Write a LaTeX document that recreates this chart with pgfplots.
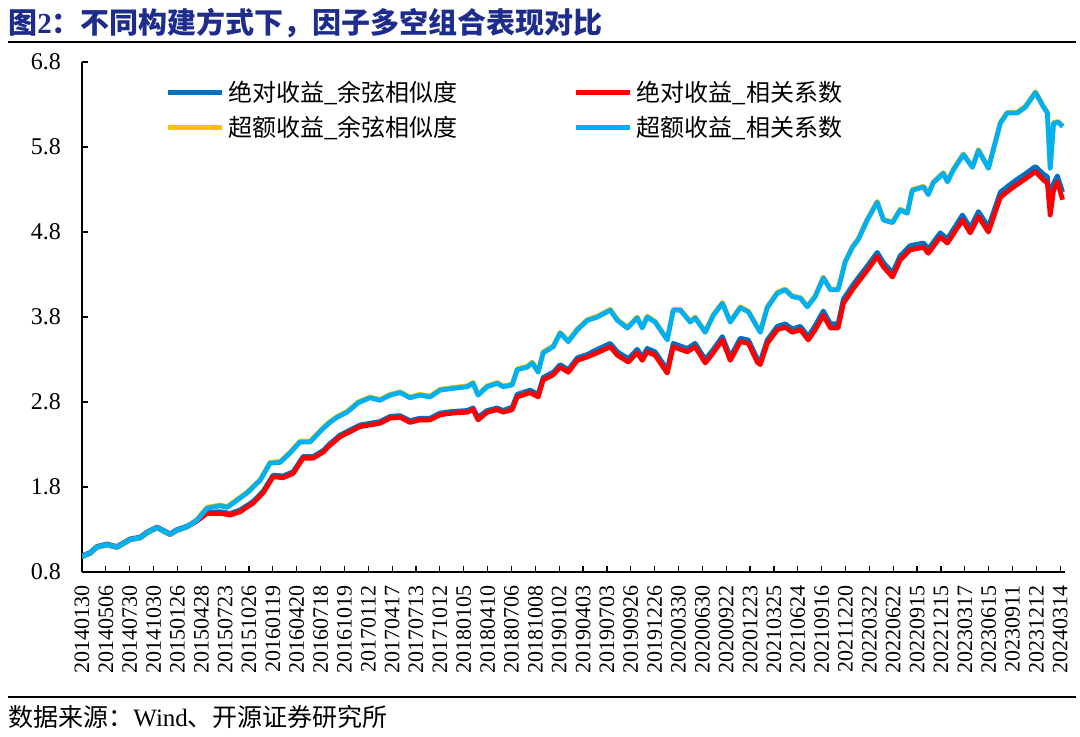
\documentclass[border=0pt]{standalone}
\usepackage{fontspec}
\setmainfont{Liberation Serif}
\newfontfamily\cjk{Noto Sans CJK SC}
\usepackage{pgfplots}
\usepackage{pgfplotstable}
\pgfplotsset{compat=1.18}
\definecolor{cblue}{RGB}{0,112,192}
\definecolor{cred}{RGB}{255,0,0}
\definecolor{cyel}{RGB}{255,192,0}
\definecolor{ccyan}{RGB}{0,176,240}
\definecolor{titleblue}{RGB}{30,45,140}

\pgfplotstableread{
x blue red
0 0.99 0.98
0.34 1.03 1.02
0.62 1.10 1.09
1.04 1.13 1.12
1.46 1.10 1.09
2.02 1.19 1.18
2.43 1.21 1.20
2.72 1.27 1.26
3.14 1.33 1.32
3.69 1.25 1.24
3.98 1.30 1.29
4.40 1.34 1.33
4.82 1.41 1.40
5.24 1.50 1.49
5.79 1.51 1.49
6.21 1.49 1.47
6.63 1.53 1.51
7.17 1.63 1.61
7.59 1.75 1.73
8.01 1.94 1.92
8.43 1.93 1.91
8.85 1.98 1.96
9.27 2.16 2.14
9.69 2.16 2.14
10.11 2.23 2.21
10.39 2.31 2.29
10.81 2.41 2.39
11.23 2.47 2.45
11.65 2.53 2.51
12.07 2.55 2.53
12.49 2.57 2.55
12.91 2.63 2.61
13.33 2.64 2.62
13.75 2.58 2.56
14.17 2.61 2.59
14.59 2.61 2.59
15.01 2.67 2.65
15.55 2.69 2.67
16.14 2.70 2.68
16.39 2.73 2.71
16.60 2.62 2.59
16.98 2.70 2.68
17.40 2.73 2.71
17.65 2.70 2.68
18.03 2.74 2.71
18.24 2.89 2.86
18.78 2.94 2.91
19.12 2.89 2.86
19.33 3.09 3.06
19.75 3.15 3.12
20.04 3.24 3.21
20.38 3.18 3.15
20.76 3.32 3.29
21.18 3.36 3.33
21.60 3.42 3.38
22.14 3.49 3.45
22.44 3.39 3.35
22.90 3.31 3.27
23.27 3.42 3.38
23.48 3.33 3.29
23.69 3.43 3.39
24.02 3.39 3.35
24.53 3.18 3.14
24.78 3.49 3.45
25.37 3.43 3.39
25.70 3.49 3.45
26.12 3.30 3.26
26.46 3.42 3.38
26.84 3.57 3.53
27.17 3.33 3.29
27.59 3.55 3.51
27.93 3.53 3.49
28.30 3.31 3.27
28.43 3.28 3.24
28.72 3.53 3.49
29.14 3.69 3.65
29.47 3.72 3.68
29.77 3.66 3.62
30.11 3.69 3.65
30.44 3.57 3.53
30.73 3.70 3.65
31.07 3.87 3.82
31.37 3.72 3.67
31.69 3.72 3.67
31.91 4.01 3.96
32.29 4.17 4.12
32.53 4.26 4.21
32.91 4.40 4.35
33.33 4.56 4.51
33.59 4.44 4.39
33.97 4.32 4.27
34.29 4.52 4.47
34.71 4.64 4.59
35.27 4.67 4.62
35.47 4.60 4.55
35.97 4.79 4.74
36.27 4.72 4.67
36.90 5.00 4.94
37.23 4.85 4.79
37.57 5.04 4.98
37.99 4.86 4.80
38.49 5.27 5.21
39.04 5.39 5.33
39.46 5.47 5.41
39.96 5.57 5.51
40.30 5.48 5.41
40.46 5.45 5.38
40.58 5.12 5.00
40.72 5.37 5.29
40.88 5.46 5.39
41.10 5.27 5.18
}\absdata

\pgfplotstableread{
x yel cyan
0 0.98 0.98
0.34 1.02 1.02
0.62 1.09 1.09
1.04 1.12 1.12
1.46 1.09 1.09
2.02 1.18 1.18
2.43 1.20 1.20
2.72 1.26 1.26
3.14 1.32 1.32
3.69 1.24 1.24
3.98 1.29 1.29
4.40 1.33 1.33
4.82 1.42 1.41
5.24 1.56 1.55
5.79 1.59 1.58
6.08 1.57 1.56
6.33 1.62 1.61
6.92 1.74 1.73
7.47 1.89 1.88
7.88 2.09 2.08
8.30 2.10 2.09
8.72 2.21 2.20
9.14 2.34 2.33
9.56 2.34 2.33
10.11 2.50 2.49
10.39 2.57 2.56
10.69 2.63 2.62
11.11 2.69 2.68
11.57 2.80 2.79
12.07 2.86 2.85
12.49 2.83 2.82
12.91 2.89 2.88
13.33 2.92 2.91
13.75 2.86 2.85
14.17 2.89 2.88
14.59 2.87 2.86
15.01 2.95 2.94
15.55 2.97 2.96
16.14 2.99 2.98
16.39 3.03 3.02
16.60 2.89 2.88
16.98 2.99 2.98
17.40 3.03 3.02
17.65 2.99 2.98
18.03 3.01 3.00
18.24 3.19 3.18
18.66 3.22 3.21
18.87 3.27 3.26
19.12 3.16 3.15
19.33 3.39 3.38
19.75 3.46 3.45
20.04 3.62 3.61
20.38 3.52 3.51
20.76 3.66 3.65
21.18 3.77 3.76
21.60 3.81 3.80
22.14 3.89 3.88
22.44 3.77 3.76
22.86 3.68 3.67
23.27 3.80 3.79
23.48 3.68 3.67
23.69 3.81 3.80
24.02 3.75 3.74
24.53 3.54 3.53
24.78 3.89 3.88
25.08 3.89 3.88
25.49 3.75 3.74
25.70 3.80 3.79
26.12 3.63 3.62
26.46 3.83 3.82
26.84 3.97 3.96
27.17 3.75 3.74
27.59 3.92 3.91
27.93 3.87 3.86
28.30 3.69 3.68
28.43 3.63 3.62
28.72 3.92 3.91
29.14 4.09 4.08
29.47 4.13 4.12
29.77 4.05 4.04
30.11 4.03 4.02
30.40 3.93 3.92
30.73 4.05 4.04
31.07 4.27 4.26
31.37 4.13 4.12
31.69 4.13 4.12
31.99 4.46 4.45
32.29 4.63 4.62
32.53 4.72 4.71
32.91 4.95 4.94
33.33 5.16 5.15
33.59 4.95 4.94
33.97 4.92 4.91
34.29 5.07 5.06
34.59 5.03 5.02
34.80 5.30 5.29
35.27 5.34 5.33
35.47 5.25 5.24
35.68 5.39 5.38
36.10 5.50 5.49
36.27 5.40 5.39
36.52 5.54 5.53
36.94 5.72 5.71
37.32 5.57 5.56
37.57 5.77 5.76
37.99 5.56 5.55
38.49 6.09 6.08
38.78 6.21 6.20
39.20 6.21 6.20
39.54 6.28 6.27
39.96 6.45 6.44
40.30 6.28 6.27
40.46 6.21 6.20
40.58 5.56 5.55
40.72 6.09 6.08
40.92 6.10 6.09
41.10 6.05 6.04
}\excdata

\begin{document}
\begin{tikzpicture}
\path[use as bounding box, fill=white] (0,0) rectangle (540pt,368pt);
% title
\node[anchor=base west, inner sep=0pt, text=titleblue, font=\fontsize{14.5}{17}\selectfont\bfseries] at (4pt,351.5pt)
  {{\cjk 图}2{\cjk ：不同构建方式下，因子多空组合表现对比}};
\draw[line width=1pt, black] (4pt,347pt) -- (538pt,347pt);
% footer
\draw[line width=1pt, black] (4pt,19.5pt) -- (538pt,19.5pt);
\node[anchor=base west, inner sep=0pt, font=\fontsize{12.5}{15}\selectfont] at (4pt,5pt)
  {{\cjk 数据来源：}Wind{\cjk 、开源证券研究所}};

\begin{axis}[
  at={(41pt,82pt)}, anchor=south west,
  scale only axis, width=491.5pt, height=255pt,
  xmin=0, xmax=41.2, ymin=0.8, ymax=6.8,
  axis lines*=left,
  axis line style={-, black, line width=0.8pt},
  tick align=inside,
  major tick length=3pt,
  tick style={black, line width=0.6pt},
  ytick={0.8,1.8,2.8,3.8,4.8,5.8,6.8},
  yticklabel shift=7pt,
  yticklabel style={font=\fontsize{12}{14}\selectfont,
    /pgf/number format/.cd, fixed, fixed zerofill, precision=1, assume math mode=true},
  xtick={0,...,41},
  xticklabels={20140130,20140506,20140730,20141030,20150126,20150428,20150723,20151026,20160119,20160420,20160718,20161019,20170112,20170417,20170713,20171012,20180105,20180410,20180706,20181008,20190102,20190403,20190703,20190926,20191226,20200330,20200630,20200922,20201223,20210325,20210624,20210916,20211220,20220322,20220622,20220915,20221215,20230317,20230615,20230911,20231212,20240314},
  xticklabel shift=3pt,
  xticklabel style={rotate=90, anchor=east, font=\fontsize{11}{13}\selectfont},
  legend columns=2,
  legend cell align=left,
  legend style={at={(0.0785,0.98)}, anchor=north west, draw=none, fill=none,
    font=\fontsize{12}{14}\selectfont\cjk,
    /tikz/every even column/.append style={column sep=56pt},
    row sep=2pt},
  legend image code/.code={\draw[#1, line width=2.4pt] (0pt,0pt) -- (27pt,0pt);},
  every axis plot/.append style={line width=2.4pt, line join=round},
]
\addplot[cblue, no markers] table[x=x, y=blue] {\absdata};
\addlegendentry{绝对收益\_余弦相似度}
\addplot[cred, no markers] table[x=x, y=red] {\absdata};
\addlegendentry{绝对收益\_相关系数}
\addplot[cyel, no markers] table[x=x, y=yel] {\excdata};
\addlegendentry{超额收益\_余弦相似度}
\addplot[ccyan, no markers] table[x=x, y=cyan] {\excdata};
\addlegendentry{超额收益\_相关系数}
\end{axis}
\end{tikzpicture}
\end{document}
